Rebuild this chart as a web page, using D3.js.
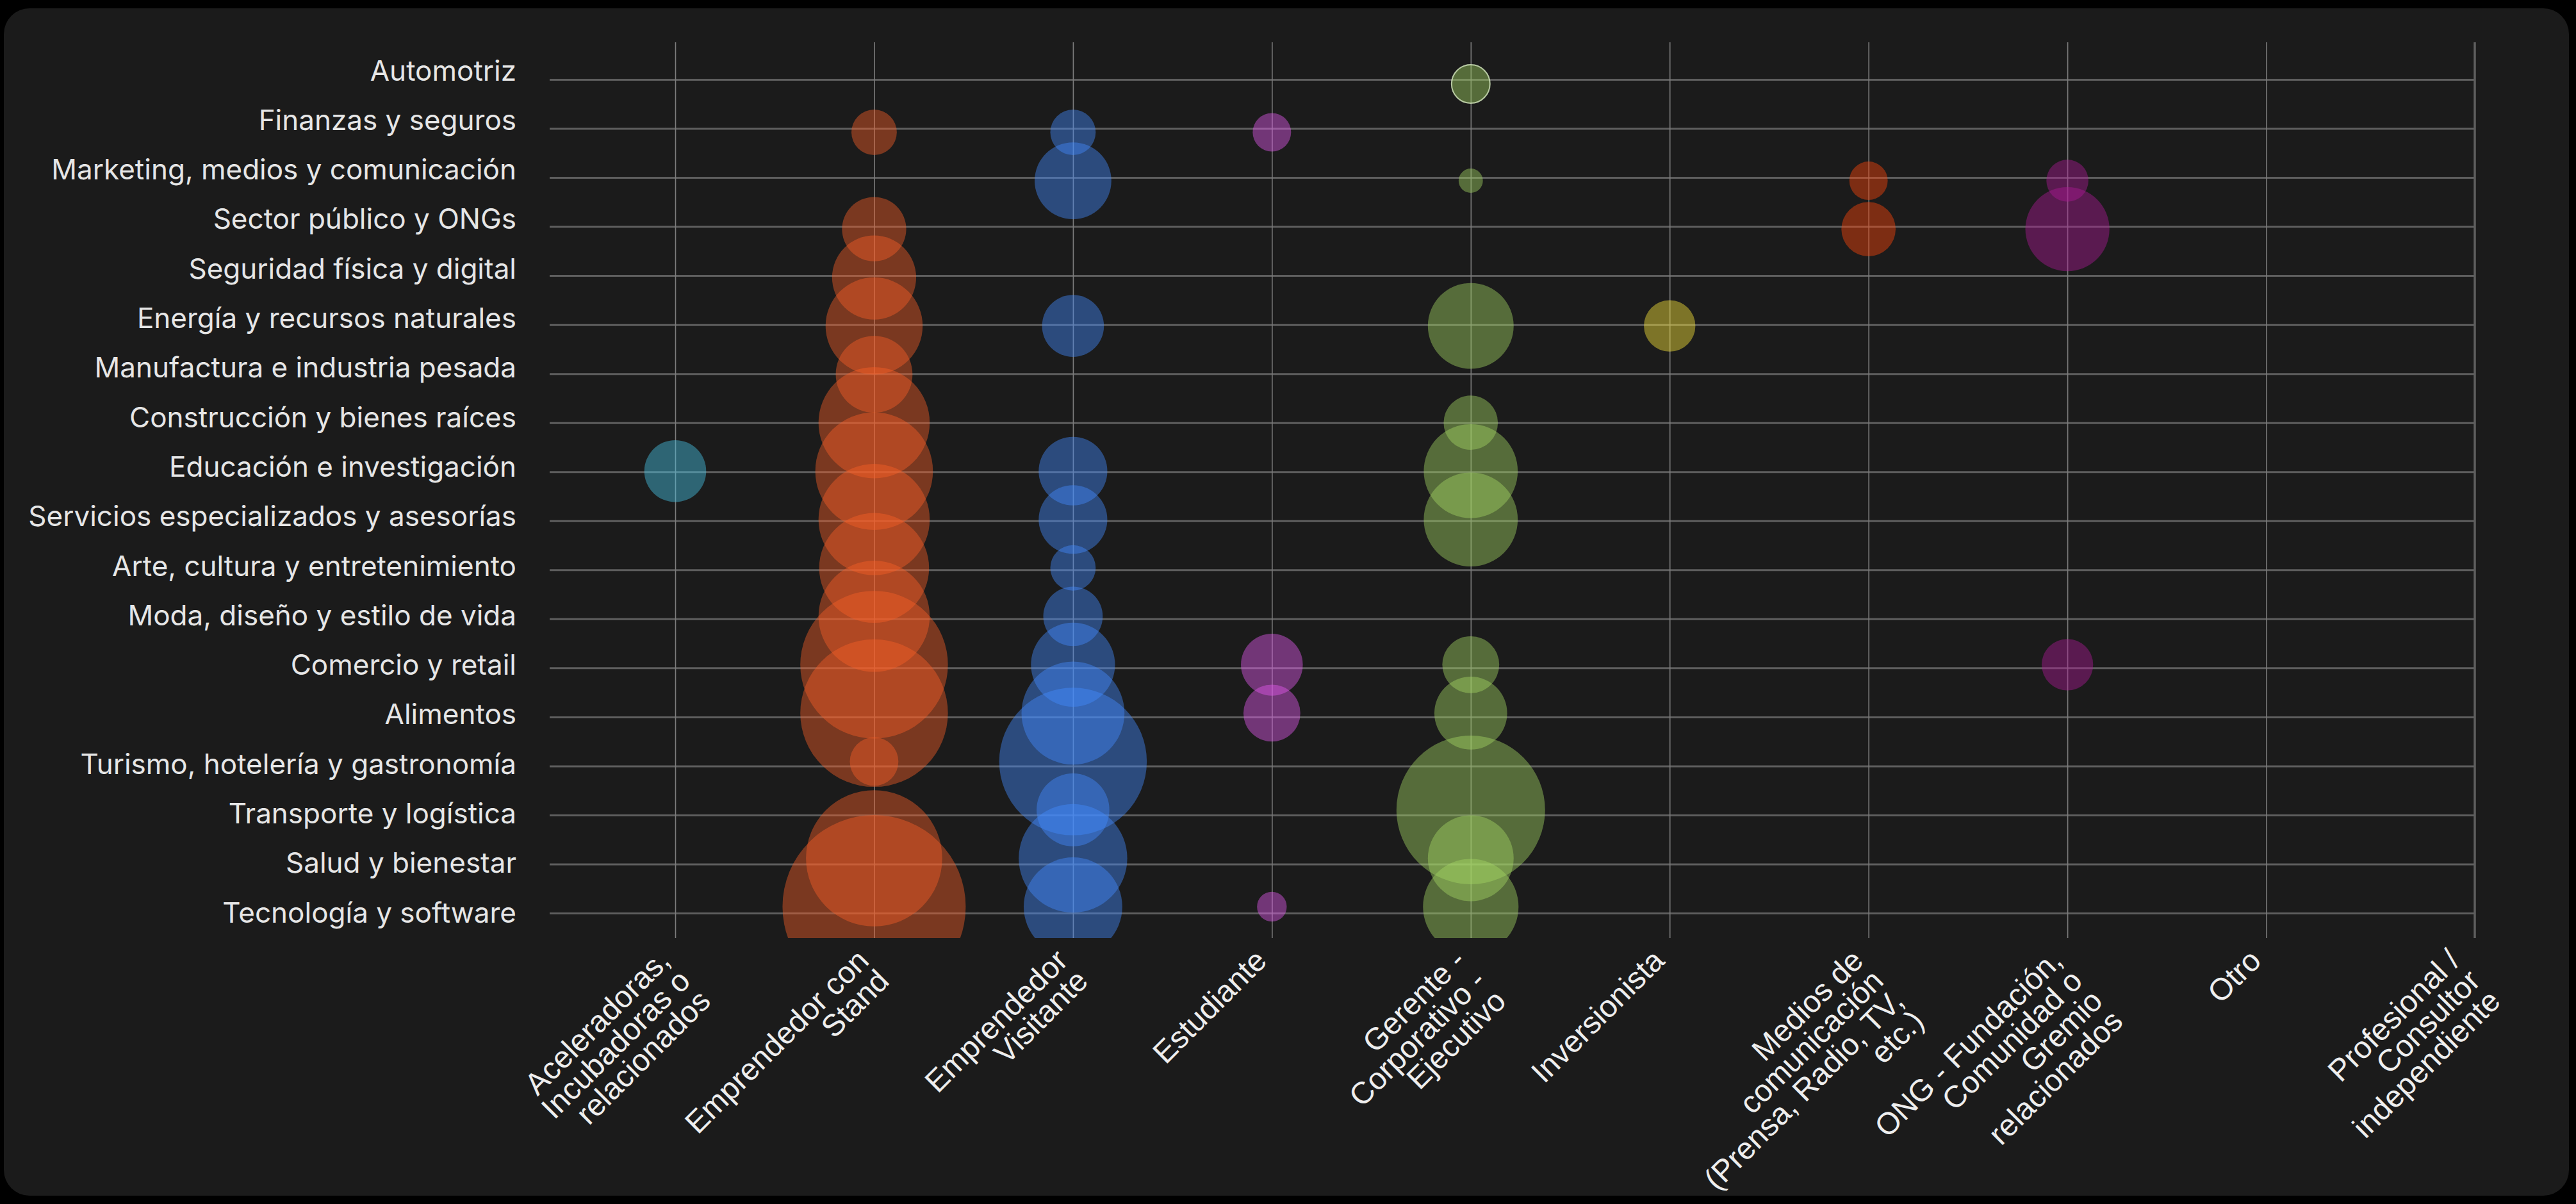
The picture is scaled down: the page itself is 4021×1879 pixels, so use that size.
<!DOCTYPE html>
<html><head><meta charset="utf-8">
<script src="https://cdn.jsdelivr.net/npm/d3@7"></script>
<style>html,body{margin:0;padding:0;background:#000;} svg{display:block}</style>
</head><body>
<svg id="chart" width="4021" height="1879"></svg>
<script>
// ---------- DATA ----------
const industries = [
  "Automotriz",
  "Finanzas y seguros",
  "Marketing, medios y comunicación",
  "Sector público y ONGs",
  "Seguridad física y digital",
  "Energía y recursos naturales",
  "Manufactura e industria pesada",
  "Construcción y bienes raíces",
  "Educación e investigación",
  "Servicios especializados y asesorías",
  "Arte, cultura y entretenimiento",
  "Moda, diseño y estilo de vida",
  "Comercio y retail",
  "Alimentos",
  "Turismo, hotelería y gastronomía",
  "Transporte y logística",
  "Salud y bienestar",
  "Tecnología y software"
];

const roles = [
  "Aceleradoras, Incubadoras o relacionados",
  "Emprendedor con Stand",
  "Emprendedor Visitante",
  "Estudiante",
  "Gerente - Corporativo - Ejecutivo",
  "Inversionista",
  "Medios de comunicación (Prensa, Radio, TV, etc.)",
  "ONG - Fundación, Comunidad o Gremio relacionados",
  "Otro",
  "Profesional / Consultor independiente"
];

const roleLabelLines = [
  ["Aceleradoras,", "Incubadoras o", "relacionados"],
  ["Emprendedor con", "Stand"],
  ["Emprendedor", "Visitante"],
  ["Estudiante"],
  ["Gerente -", "Corporativo -", "Ejecutivo"],
  ["Inversionista"],
  ["Medios de", "comunicación", "(Prensa, Radio, TV,", "etc.)"],
  ["ONG - Fundación,", "Comunidad o", "Gremio", "relacionados"],
  ["Otro"],
  ["Profesional /", "Consultor", "independiente"]
];

const roleColors = [
  "rgb(72,200,235)",
  "rgb(247,94,39)",
  "rgb(68,138,255)",
  "rgb(230,90,240)",
  "rgb(164,215,99)",
  "rgb(255,235,59)",
  "rgb(255,70,10)",
  "rgb(175,25,150)",
  "rgb(180,180,180)",
  "rgb(180,180,180)"
];

// values per role, in the order of `industries` (0 = no bubble)
const valAceleradoras = [0,0,0,0,0,0,0,0,13,0,0,0,0,0,0,0,0,0];
const valStand        = [0,7,0,14,24,32,20,42,47,42,41,42,74,74,8,0,63,114];
const valVisitante    = [0,7,20,0,0,13,0,0,16,16,7,12,24,36,74,18,40,33];
const valEstudiante   = [0,5,0,0,0,0,0,0,0,0,0,0,13,11,0,0,0,3];
const valGerente      = [5,0,2,0,0,25,0,10,30,30,0,0,11,18,0,75,25,31];
const valInversion    = [0,0,0,0,0,9,0,0,0,0,0,0,0,0,0,0,0,0];
const valMedios       = [0,0,5,10,0,0,0,0,0,0,0,0,0,0,0,0,0,0];
const valONG          = [0,0,6,24,0,0,0,0,0,0,0,0,9,0,0,0,0,0];
const valOtro         = [0,0,0,0,0,0,0,0,0,0,0,0,0,0,0,0,0,0];
const valProfesional  = [0,0,0,0,0,0,0,0,0,0,0,0,0,0,0,0,0,0];

const seriesValues = [valAceleradoras, valStand, valVisitante, valEstudiante, valGerente,
                      valInversion, valMedios, valONG, valOtro, valProfesional];

const highlighted = [{ role: "Gerente - Corporativo - Ejecutivo", industry: "Automotriz" }];

// ---------- CHART ----------
const svg = d3.select("#chart");
svg.append("rect").attr("x", 6).attr("y", 13).attr("width", 4004).attr("height", 1853)
   .attr("rx", 40).attr("fill", "#1b1b1b");

const plot = { left: 858, right: 3863, top: 66, bottom: 1464 };

const x = d3.scalePoint().domain(roles).range([1054, 3848]);
const yGrid = d3.scalePoint().domain(industries).range([124, 1425]);
const yLabel = d3.scalePoint().domain(industries).range([111, 1425]);
const yBubble = d3.scalePoint().domain(industries).range([131, 1415]);
const r = d3.scaleSqrt().domain([0, 114]).range([0, 143]);

// horizontal grid
const gY = svg.append("g").attr("transform", `translate(${plot.left},0)`)
  .call(d3.axisRight(yGrid).tickSize(plot.right - plot.left).tickFormat(""));
gY.select(".domain").remove();
gY.selectAll(".tick line").attr("stroke", "#5e5e5e").attr("stroke-width", 3);

// vertical grid (last column coincides with the right border line)
const gX = svg.append("g").attr("transform", `translate(0,${plot.bottom})`)
  .call(d3.axisTop(x).tickSize(plot.bottom - plot.top).tickFormat(""));
gX.select(".domain").remove();
gX.selectAll(".tick line").attr("stroke", "#7c7c7c").attr("stroke-width", 1.6);
gX.selectAll(".tick:last-of-type line").remove();
svg.append("line").attr("x1", plot.right).attr("x2", plot.right)
  .attr("y1", plot.top).attr("y2", plot.bottom)
  .attr("stroke", "#5e5e5e").attr("stroke-width", 3.5);

// bubbles
svg.append("defs").append("clipPath").attr("id", "plotClip")
  .append("rect").attr("x", plot.left).attr("y", plot.top)
  .attr("width", plot.right - plot.left).attr("height", plot.bottom - plot.top);

const points = [];
roles.forEach((role, i) => {
  seriesValues[i].forEach((v, j) => {
    if (v > 0) points.push({ role, industry: industries[j], value: v, color: roleColors[i] });
  });
});
const isHi = d => highlighted.some(h => h.role === d.role && h.industry === d.industry);

svg.append("g").attr("clip-path", "url(#plotClip)")
  .selectAll("circle").data(points).join("circle")
  .attr("cx", d => x(d.role))
  .attr("cy", d => yBubble(d.industry))
  .attr("r", d => r(d.value))
  .attr("fill", d => d.color)
  .attr("fill-opacity", 0.43)
  .attr("stroke", d => isHi(d) ? "#cfe2b8" : "none")
  .attr("stroke-opacity", 0.85)
  .attr("stroke-width", d => isHi(d) ? 2 : 0);

// y labels
const gYL = svg.append("g").attr("transform", `translate(806,0)`)
  .call(d3.axisLeft(yLabel).tickSize(0).tickPadding(0));
gYL.select(".domain").remove();
gYL.selectAll("text").attr("fill", "#e6e6e6").style("font-family", "Inter")
  .style("font-size", "44px");

// x labels
const gXL = svg.append("g").attr("transform", `translate(0,1490)`)
  .call(d3.axisBottom(x).tickSize(0).tickFormat(""));
gXL.select(".domain").remove();
gXL.selectAll(".tick").each(function(d, i) {
  const t = d3.select(this).append("text")
    .attr("transform", "translate(-6,12) rotate(-45)")
    .attr("text-anchor", "end")
    .attr("fill", "#eeeeee")
    .style("font-family", "Liberation Sans")
    .style("font-size", "48px");
  roleLabelLines[i].forEach((line, k) => {
    t.append("tspan").attr("x", 0).attr("dy", k === 0 ? 0 : "0.93em").text(line);
  });
});
</script>
</body></html>
